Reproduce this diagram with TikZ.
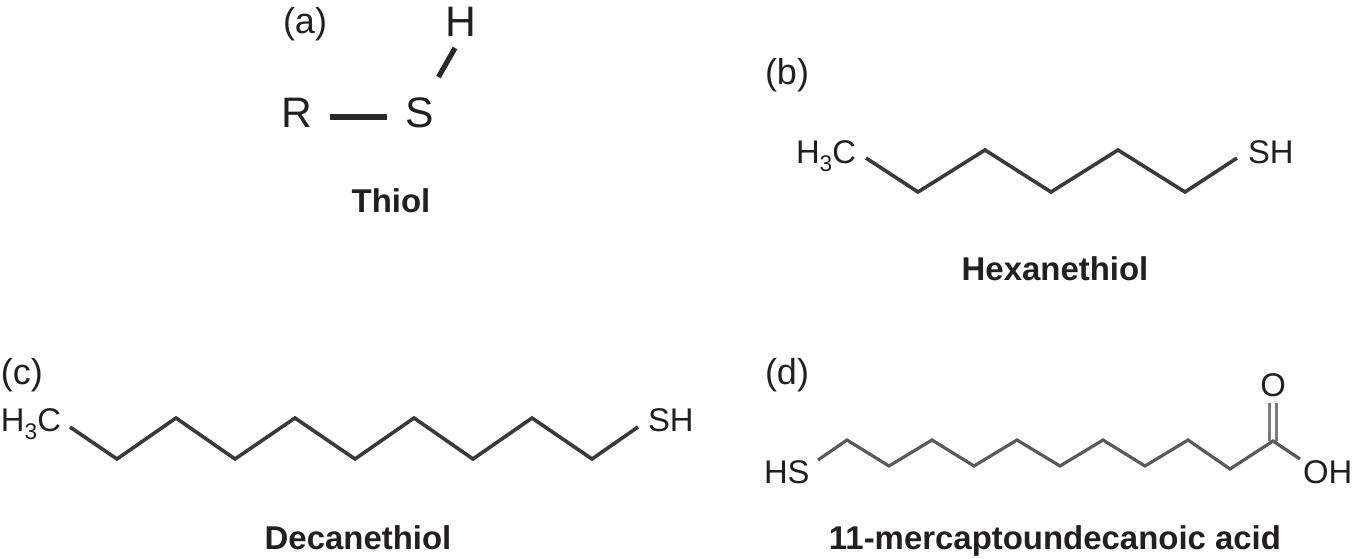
\documentclass[tikz,border=0pt]{standalone}
\usepackage{fontspec}
\setmainfont{Liberation Sans}
\definecolor{ink}{HTML}{231F20}
\definecolor{bondb}{HTML}{3A3A3A}
\definecolor{bondd}{HTML}{5A5A5A}
\newcommand{\subthree}{\raisebox{-0.27em}{\fontsize{17}{17}\selectfont 3}}
\tikzset{
  base/.style={inner sep=0pt,outer sep=0pt,text=ink},
  tag/.style={base,anchor=base west,font=\fontsize{27}{27}\selectfont},
  bigatom/.style={base,anchor=base,font=\fontsize{32}{32}\selectfont},
  atomw/.style={base,anchor=base west,font=\fontsize{24.6}{24.6}\selectfont},
  atomc/.style={base,anchor=base,font=\fontsize{24.6}{24.6}\selectfont},
  title/.style={base,anchor=base,font=\bfseries\fontsize{24.7}{24.7}\selectfont},
  thick bond/.style={draw=bondb!70!black,line width=3.9pt,line cap=butt},
  chain/.style={draw=bondb,line width=2.7pt,line join=miter,line cap=butt},
  chaind/.style={draw=bondd,line width=2.4pt,line join=miter,line cap=butt},
}
\begin{document}
\begin{tikzpicture}[x=0.75pt,y=-0.75pt]
\useasboundingbox (0,0) rectangle (1354,558);
% (a)
\node[tag] (ta) at (283,33) {(a)};
\node[bigatom] (R) at (297,127) {R};
\node[bigatom] (S) at (420,127) {S};
\node[bigatom] (H) at (461,36) {H};
\node[title] (t1) at (391,212) {Thiol};
\coordinate (ra) at (330,117); \coordinate (rb) at (387,117);
\coordinate (sa) at (438.5,77); \coordinate (sb) at (455,48);
\draw[thick bond] (ra) -- (rb);
\draw[thick bond] (sa) -- (sb);
% (b)
\node[tag] (tb) at (765,84) {(b)};
\node[atomw] (bl) at (796,163) {H\subthree C};
\node[atomw] (br) at (1248,163) {SH};
\node[title] (t2) at (1055,280) {Hexanethiol};
\foreach \n/\x/\y in {0/866/158,1/918/192,2/985/150,3/1051/192,4/1118/150,5/1185/192,6/1237/158}
  \coordinate (b\n) at (\x,\y);
\draw[chain] (b0)--(b1)--(b2)--(b3)--(b4)--(b5)--(b6);
% (c)
\node[tag] (tc) at (1,384) {(c)};
\node[atomw] (cl) at (1,431) {H\subthree C};
\node[atomw] (cr) at (648,431) {SH};
\node[title] (t3) at (358,549) {Decanethiol};
\foreach \n/\x/\y in {0/70/427,1/117/459,2/176/418,3/235/459,4/295/418,5/355/459,6/414/418,7/473/459,8/532/418,9/592/459,10/638/427}
  \coordinate (c\n) at (\x,\y);
\draw[chain] (c0)--(c1)--(c2)--(c3)--(c4)--(c5)--(c6)--(c7)--(c8)--(c9)--(c10);
% (d)
\node[tag] (td) at (765,384) {(d)};
\node[atomw] (dl) at (764,483) {HS};
\node[atomw] (dr) at (1303,483) {OH};
\node[atomc] (dO) at (1273,396) {O};
\node[title] (t4) at (1055,549) {11-mercaptoundecanoic acid};
\foreach \n/\x/\y in {0/818/460,1/847/440,2/889/466,3/932/440,4/974/466,5/1017/440,6/1060/466,7/1103/440,8/1145/466,9/1188/440,10/1230/469,11/1273/441,12/1300/459}
  \coordinate (d\n) at (\x,\y);
\draw[chaind] (d0)--(d1)--(d2)--(d3)--(d4)--(d5)--(d6)--(d7)--(d8)--(d9)--(d10)--(d11)--(d12);
\coordinate (e1) at (1269.5,403); \coordinate (e2) at (1269.5,441);
\coordinate (f1) at (1276.5,403); \coordinate (f2) at (1276.5,441);
\draw[chaind,draw=bondd!80] (e1)--(e2);
\draw[chaind,draw=bondd!80] (f1)--(f2);
\end{tikzpicture}
\end{document}
